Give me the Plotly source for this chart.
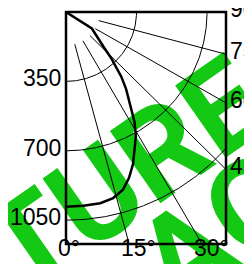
import numpy as np
import plotly.graph_objects as go

# ---- data ----
curve_theta_deg = [0, 5, 10, 14, 17.5, 20.5, 23.5, 26, 29, 31.5, 33, 35, 37.5, 40, 42, 44, 46.5, 50.5, 57, 58]
curve_r = [982, 981, 979, 967, 940, 893, 835, 776, 715, 651, 600, 549, 490, 428, 372, 322, 260, 200, 153, 0]

radial_ticks = [350, 700, 1050]
angular_ticks = [0, 15, 30, 45, 60, 75, 90]
bottom_angle_ticks = [0, 15, 30]
right_angle_ticks = [45, 60, 75, 90]

r_bottom = 1170   # radial extent at the bottom edge (theta = 0 direction)
x_right = 794     # horizontal extent at the right edge
grid_r_start = 168

FONT = "Liberation Sans"


def to_xy(r, th_deg):
    th = np.radians(np.asarray(th_deg, dtype=float))
    r = np.asarray(r, dtype=float)
    return r * np.sin(th), r * np.cos(th)


fig = go.Figure()

# circular grid arcs
arc_th = np.linspace(0, 90, 181)
for rv in radial_ticks:
    x, y = to_xy(np.full_like(arc_th, rv), arc_th)
    fig.add_trace(go.Scatter(x=x, y=y, mode="lines", line=dict(color="black", width=1),
                             hoverinfo="skip", showlegend=False))

# radial grid lines
for tv in angular_ticks[1:-1]:
    x, y = to_xy([grid_r_start, 3000], [tv, tv])
    fig.add_trace(go.Scatter(x=x, y=y, mode="lines", line=dict(color="black", width=1),
                             hoverinfo="skip", showlegend=False))

# main curve
cx, cy = to_xy(curve_r, curve_theta_deg)
fig.add_trace(go.Scatter(x=cx, y=cy, mode="lines", line=dict(color="black", width=2.5),
                         showlegend=False))

LBL = dict(family=FONT, size=23, color="black")
annotations = []
for rv in radial_ticks:
    annotations.append(dict(x=0, y=rv, xref="x", yref="y", text=str(rv), showarrow=False,
                            xanchor="right", yanchor="middle", xshift=-4, yshift=3,
                            borderpad=0, font=LBL))
for tv in bottom_angle_ticks:
    annotations.append(dict(x=r_bottom * np.tan(np.radians(tv)), y=r_bottom, xref="x", yref="y",
                            text=f"{tv}°", showarrow=False, xanchor="left", yanchor="middle",
                            xshift=-9, yshift=-4, borderpad=0, font=LBL))
for tv in right_angle_ticks:
    yv = x_right / np.tan(np.radians(tv)) if tv < 90 else 0.0
    annotations.append(dict(x=x_right, y=yv, xref="x", yref="y", text=f"{tv}°", showarrow=False,
                            xanchor="left", yanchor="middle", xshift=3, yshift=3,
                            borderpad=0, font=LBL))

# the page body adds an 8 px margin, so the figure is sized to fit the 252x264 window
fig.update_layout(
    width=244, height=256,
    margin=dict(l=58, r=26, t=4, b=20),
    paper_bgcolor="white", plot_bgcolor="rgba(0,0,0,0)",
    xaxis=dict(range=[0, x_right], showgrid=False, zeroline=False, showticklabels=False,
               ticks="", showline=False),
    yaxis=dict(range=[r_bottom, 0], showgrid=False, zeroline=False, showticklabels=False,
               ticks="", showline=False),
    annotations=annotations,
)

# frame
fig.add_shape(type="rect", xref="paper", yref="paper", x0=0, x1=1, y0=0, y1=1,
              line=dict(color="black", width=2.5), layer="above")

# green watermark text (behind the chart)
GREEN = "#13C913"
WM = dict(family="Roboto", size=124, color=GREEN, weight=700)
fig.add_shape(type="rect", xref="paper", yref="paper", x0=0.242, x1=0.442, y0=0.276, y1=0.376,
              line=dict(width=0), fillcolor="rgba(0,0,0,0)", layer="below",
              label=dict(text="TURE", textangle=-35, textposition="middle center", font=WM))
fig.add_shape(type="rect", xref="paper", yref="paper", x0=0.828, x1=1.028, y0=0.047, y1=0.147,
              line=dict(width=0), fillcolor="rgba(0,0,0,0)", layer="below",
              label=dict(text="AG", textangle=-35, textposition="middle center", font=WM))

fig.write_html("out.html")
